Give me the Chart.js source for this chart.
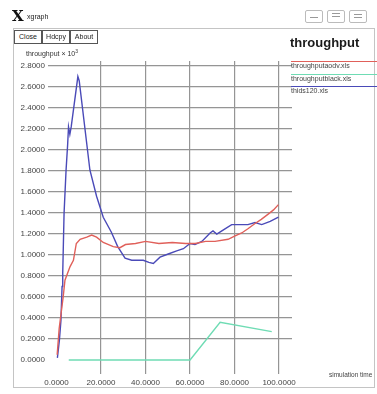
<!DOCTYPE html>
<html>
<head>
<meta charset="utf-8">
<script src="https://cdn.jsdelivr.net/npm/chart.js@4/dist/chart.umd.min.js"></script>
<style>
  html, body { margin: 0; padding: 0; background: #fff; }
  body { width: 377px; height: 394px; overflow: hidden; position: relative;
         font-family: "Liberation Sans", Arial, sans-serif; color: #333; }
  #c { position: absolute; left: 0; top: 0; }
  .abs { position: absolute; white-space: nowrap; }
  #frame { position: absolute; left: 13px; top: 28px; width: 360px; height: 358px;
           border: 1px solid #c4c4c4; }
  .btn { position: absolute; top: 30px; height: 12px; border: 1px solid #555;
         font-size: 7px; line-height: 12px; text-align: center; color: #222; background: #fff; }
  .wbtn { position: absolute; top: 10px; width: 16px; height: 11px; border: 1px solid #bbb;
          border-radius: 2px; }
  .wbtn i { position: absolute; left: 4px; right: 4px; border-top: 1px solid #999; }
  .leg { position: absolute; left: 291px; width: 86px; font-size: 7px; line-height: 8px;
         color: #444; border-top: 1px solid; padding-top: 0px; }
</style>
</head>
<body>
<div id="frame"></div>
<canvas id="c" width="377" height="394"></canvas>

<div class="abs" style="left:12px;top:7px;font:bold 15px 'DejaVu Serif',serif;color:#111;">X</div>
<div class="abs" style="left:27px;top:13px;font-size:7px;color:#222;">xgraph</div>

<div class="wbtn" style="left:305px;"><i style="top:6px"></i></div>
<div class="wbtn" style="left:327px;"><i style="top:2px"></i><i style="top:5px"></i></div>
<div class="wbtn" style="left:349px;"><i style="top:3px"></i><i style="top:6px"></i></div>

<div class="btn" style="left:14px;width:26px;">Close</div>
<div class="btn" style="left:42px;width:26px;">Hdcpy</div>
<div class="btn" style="left:70px;width:26px;">About</div>

<div class="abs" style="left:26px;top:48px;font-size:7px;color:#333;">throughput × 10<sup style="font-size:5px;vertical-align:3px;">3</sup></div>
<div class="abs" style="left:290px;top:35px;font-size:13px;font-weight:bold;color:#1a1a1a;">throughput</div>

<div class="leg" style="top:61px;border-color:#e0605a;">throughputaodv.xls</div>
<div class="leg" style="top:74px;border-color:#6fdcb4;">throughputblack.xls</div>
<div class="leg" style="top:86px;border-color:#4a4ab8;">thids120.xls</div>

<div class="abs" style="left:329px;top:371px;font-size:6.5px;color:#444;">simulation time</div>

<script>
// Axis ticks
const xTicks = [0, 20, 40, 60, 80, 100];
const yTicks = [0, 0.2, 0.4, 0.6, 0.8, 1.0, 1.2, 1.4, 1.6, 1.8, 2.0, 2.2, 2.4, 2.6, 2.8];

// throughputaodv.xls
const aodvT = [0.3, 1.2, 3.0, 3.8, 6.1, 7.6, 8.9, 10.6, 13.6, 15.8, 18.0, 21.0, 25.5, 28.5, 31,
               35.5, 40, 46, 52, 58, 62.3, 67, 71.2, 77.1, 80, 83.2, 86, 89.2, 92, 95.1, 97.5, 99.7];
const aodvV = [0.05, 0.30, 0.60, 0.76, 0.89, 0.95, 1.11, 1.15, 1.17, 1.19, 1.17, 1.12, 1.08, 1.07, 1.10,
               1.11, 1.13, 1.11, 1.12, 1.11, 1.11, 1.13, 1.13, 1.15, 1.18, 1.21, 1.25, 1.30, 1.34, 1.39, 1.43, 1.48];

// throughputblack.xls
const blackT = [5.5, 60, 73.5, 96.7];
const blackV = [0.0, 0.0, 0.36, 0.27];

// thids120.xls
const idsT = [0.4, 1.3, 2.0, 2.5, 2.8, 3.4, 4.3, 5.0, 5.4, 6.0, 6.6, 9.6, 10.2, 15, 18, 21, 24.6, 27.5,
              30.8, 33.8, 39, 41.5, 43.5, 46.5, 50.2, 54, 57, 60, 62.2, 65.3, 69, 70.3, 72, 75.7, 78.7,
              83.2, 86, 89.2, 92.2, 96, 99.7];
const idsV = [0.02, 0.19, 0.38, 0.70, 0.83, 1.40, 1.81, 2.05, 2.22, 2.15, 2.22, 2.70, 2.66, 1.81, 1.56,
              1.36, 1.22, 1.08, 0.97, 0.95, 0.95, 0.93, 0.92, 0.98, 1.01, 1.04, 1.06, 1.11, 1.10, 1.13,
              1.21, 1.23, 1.20, 1.25, 1.29, 1.29, 1.29, 1.31, 1.29, 1.32, 1.36];

const pts = (t, v) => t.map((x, i) => ({ x: x, y: v[i] }));

const lineSet = (label, t, v, color) => ({
  label, data: pts(t, v), borderColor: color, backgroundColor: color,
  borderWidth: 1.4, pointRadius: 0, tension: 0, fill: false
});

const gridColor = ctx => (ctx.tick && ctx.tick.value === 0) ? 'rgba(0,0,0,0)' : '#959595';
const tickFont = { family: "'Liberation Sans', Arial, sans-serif", size: 8 };

new Chart(document.getElementById('c'), {
  type: 'line',
  data: {
    datasets: [
      lineSet('throughputaodv.xls', aodvT, aodvV, '#e0605a'),
      lineSet('throughputblack.xls', blackT, blackV, '#6fdcb4'),
      lineSet('thids120.xls', idsT, idsV, '#4a4ab8')
    ]
  },
  options: {
    responsive: false,
    devicePixelRatio: 1,
    animation: false,
    layout: { padding: { top: 61, right: 85, bottom: 0, left: 0 } },
    plugins: { legend: { display: false }, tooltip: { enabled: false }, title: { display: false } },
    scales: {
      x: {
        type: 'linear', min: -3.82, max: 105.8,
        afterBuildTicks: s => { s.ticks = xTicks.map(v => ({ value: v })); },
        afterFit: s => { s.height = 20; },
        grid: { color: gridColor, lineWidth: 1.2, drawTicks: false },
        border: { display: false },
        ticks: { autoSkip: false, maxRotation: 0, padding: 4, color: '#444', font: tickFont,
                 callback: v => Number(v).toFixed(4) }
      },
      y: {
        type: 'linear', min: -0.133, max: 2.848,
        afterBuildTicks: s => { s.ticks = yTicks.map(v => ({ value: v })); },
        afterFit: s => { s.width = 48; },
        grid: { color: gridColor, lineWidth: 1.2, drawTicks: false },
        border: { display: false },
        ticks: { autoSkip: false, padding: 3, color: '#444', font: tickFont,
                 callback: v => Number(v).toFixed(4) }
      }
    }
  }
});
</script>
</body>
</html>
